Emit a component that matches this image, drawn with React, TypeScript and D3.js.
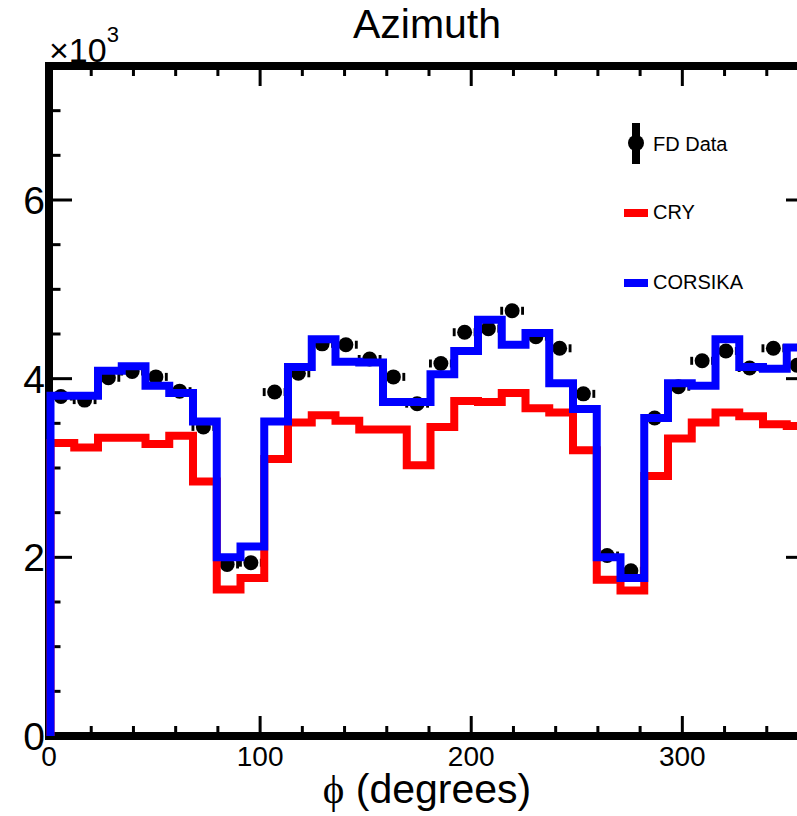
import React from "react";
import * as d3 from "d3";

// ---- data (32 bins of 11.25 degrees) ----
const binWidth = 11.25;
const corsika = [3810, 3810, 4090, 4140, 3920, 3840, 3520, 2000, 2120, 3520, 4130, 4440, 4190, 4180, 3740, 3740, 4050, 4310, 4660, 4380, 4510, 3950, 3660, 2000, 1770, 3560, 3950, 3920, 4440, 4130, 4110, 4350];
const cry = [3280, 3230, 3340, 3340, 3270, 3360, 2850, 1640, 1770, 3100, 3510, 3590, 3530, 3430, 3430, 3030, 3460, 3750, 3740, 3840, 3670, 3620, 3200, 1750, 1630, 2910, 3330, 3510, 3620, 3580, 3490, 3470];
const fdData = [3800, 3760, 4010, 4080, 4020, 3860, 3460, 1920, 1940, 3850, 4060, 4390, 4380, 4220, 4020, 3720, 4170, 4520, 4560, 4760, 4470, 4340, 3830, 2020, 1850, 3560, 3910, 4200, 4310, 4120, 4340, 4150];
const xMajorTicks = [0, 100, 200, 300];
const yMajorTicks = [0, 2000, 4000, 6000];
const yTickLabels = ["0", "2", "4", "6"];
const legendLabels = ["FD Data", "CRY", "CORSIKA"];

const W = 797;
const H = 816;
const FONT = "'Liberation Sans', Arial, Helvetica, sans-serif";

export default function App() {
  const x = d3.scaleLinear().domain([0, 360]).range([49, 809]);
  const y = d3.scaleLinear().domain([0, 7500]).range([736, 66]);

  const histPath = (vals: number[]) => {
    const pts: [number, number][] = [[0, 0]];
    vals.forEach((v, i) => pts.push([i * binWidth, v]));
    pts.push([vals.length * binWidth, vals[vals.length - 1]]);
    pts.push([vals.length * binWidth, 0]);
    return d3
      .line<[number, number]>()
      .x((d) => x(d[0]) + 1.5)
      .y((d) => y(d[1]))
      .curve(d3.curveStepAfter)(pts) as string;
  };

  const xMinor = d3.range(0, 361, 20).filter((v) => v % 100 !== 0);
  const yMinor = d3.range(0, 7501, 500).filter((v) => v % 2000 !== 0);
  const [x0, x1] = x.range();
  const [yb, yt] = y.range();
  const xMajLen = 20;
  const yMajLen = 23;
  const halfBinPx = (x(binWidth) - x(0)) / 2;

  return (
    <svg
      width={W}
      height={H}
      style={{ position: "absolute", left: 0, top: 0, display: "block", background: "#fff" }}
      fontFamily={FONT}
    >
      <rect x={0} y={0} width={W} height={H} fill="#fff" />

      {/* frame */}
      <rect x={x0} y={yt} width={x1 - x0} height={yb - yt} fill="none" stroke="#000" strokeWidth={8} />

      {/* x ticks */}
      {xMajorTicks.map((t) => (
        <g key={"xm" + t}>
          <line x1={x(t)} x2={x(t)} y1={yb} y2={yb - xMajLen} stroke="#000" strokeWidth={3} />
          <line x1={x(t)} x2={x(t)} y1={yt} y2={yt + xMajLen} stroke="#000" strokeWidth={3} />
        </g>
      ))}
      {xMinor.map((t) => (
        <g key={"xn" + t}>
          <line x1={x(t)} x2={x(t)} y1={yb} y2={yb - xMajLen / 2} stroke="#000" strokeWidth={3} />
          <line x1={x(t)} x2={x(t)} y1={yt} y2={yt + xMajLen / 2} stroke="#000" strokeWidth={3} />
        </g>
      ))}
      {/* y ticks */}
      {yMajorTicks.map((t) => (
        <g key={"ym" + t}>
          <line x1={x0} x2={x0 + yMajLen} y1={y(t)} y2={y(t)} stroke="#000" strokeWidth={3} />
          <line x1={x1} x2={x1 - yMajLen} y1={y(t)} y2={y(t)} stroke="#000" strokeWidth={3} />
        </g>
      ))}
      {yMinor.map((t) => (
        <g key={"yn" + t}>
          <line x1={x0} x2={x0 + yMajLen / 2} y1={y(t)} y2={y(t)} stroke="#000" strokeWidth={3} />
          <line x1={x1} x2={x1 - yMajLen / 2} y1={y(t)} y2={y(t)} stroke="#000" strokeWidth={3} />
        </g>
      ))}

      {/* data points */}
      <g>
        {fdData.map((v, i) => {
          const cx = x((i + 0.5) * binWidth);
          const cy = y(v);
          return (
            <g key={i}>
              <line x1={cx - halfBinPx} x2={cx - 9} y1={cy} y2={cy} stroke="#000" strokeWidth={8} />
              <line x1={cx + 9} x2={cx + halfBinPx} y1={cy} y2={cy} stroke="#000" strokeWidth={8} />
              <circle cx={cx} cy={cy} r={7.5} fill="#000" />
            </g>
          );
        })}
      </g>

      {/* histograms */}
      <path d={histPath(cry)} fill="none" stroke="#ff0000" strokeWidth={8} strokeLinejoin="miter" />
      <path d={histPath(corsika)} fill="none" stroke="#0000ff" strokeWidth={8} strokeLinejoin="miter" />

      {/* tick labels */}
      {xMajorTicks.map((t) => (
        <text key={"xl" + t} x={x(t)} y={766} fontSize={28} textAnchor="middle" fill="#000">
          {t}
        </text>
      ))}
      {yMajorTicks.map((t, i) => (
        <text key={"yl" + t} x={45} y={y(t)} dy="0.36em" fontSize={39} textAnchor="end" fill="#000">
          {yTickLabels[i]}
        </text>
      ))}

      {/* exponent */}
      <text x={49} y={62} fontSize={34} fill="#000">
        ×10
        <tspan fontSize={22} dy={-20}>3</tspan>
      </text>

      {/* title */}
      <text x={427} y={38} fontSize={41} textAnchor="middle" fill="#000">
        Azimuth
      </text>

      {/* axis title */}
      <text x={427} y={803} fontSize={41} textAnchor="middle" fill="#000">
        <tspan fontFamily="'Liberation Serif', 'DejaVu Serif', serif">ϕ</tspan> (degrees)
      </text>

      {/* legend */}
      <g>
        <line x1={636} x2={636} y1={123} y2={164} stroke="#000" strokeWidth={8} />
        <circle cx={636} cy={143} r={8} fill="#000" />
        <text x={653} y={151} fontSize={20} fill="#000">{legendLabels[0]}</text>
        <line x1={624} x2={648} y1={213} y2={213} stroke="#ff0000" strokeWidth={8} />
        <text x={653} y={219} fontSize={20} fill="#000">{legendLabels[1]}</text>
        <line x1={624} x2={648} y1={283} y2={283} stroke="#0000ff" strokeWidth={8} />
        <text x={653} y={289} fontSize={20} fill="#000">{legendLabels[2]}</text>
      </g>
    </svg>
  );
}
